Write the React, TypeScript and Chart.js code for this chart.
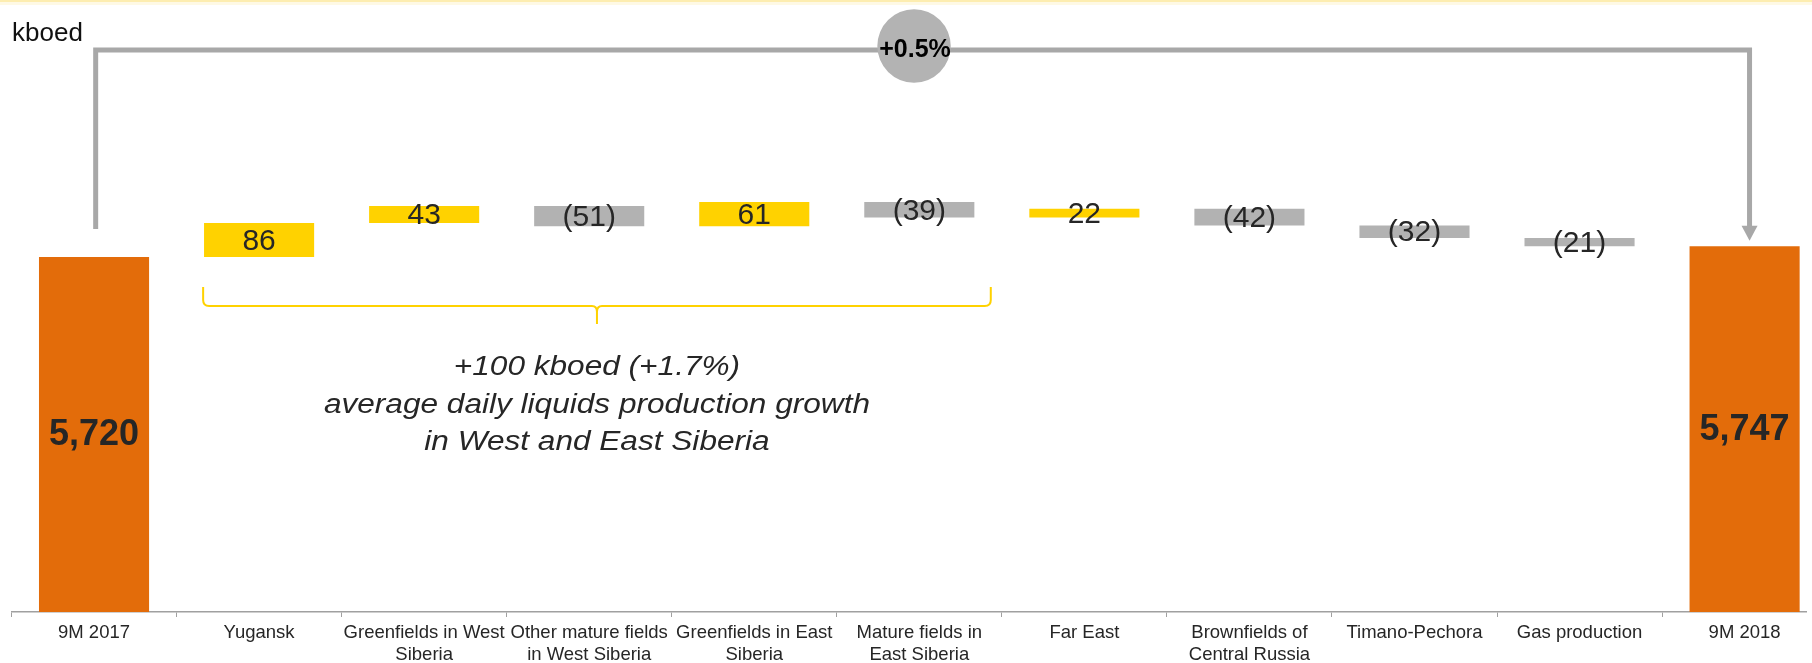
import React, { useEffect, useRef } from "react";
import { Chart, registerables } from "chart.js";

Chart.register(...registerables);

// ---- Data ----
const categories: string[][] = [
  ["9M 2017"],
  ["Yugansk"],
  ["Greenfields in West", "Siberia"],
  ["Other mature fields", "in West Siberia"],
  ["Greenfields in East", "Siberia"],
  ["Mature fields in", "East Siberia"],
  ["Far East"],
  ["Brownfields of", "Central Russia"],
  ["Timano-Pechora"],
  ["Gas production"],
  ["9M 2018"],
];
const startTotal = 5720;
const changes = [86, 43, -51, 61, -39, 22, -42, -32, -21];
const endTotal = 5747;
const totalLabels = ["5,720", "5,747"];
const changeLabels = ["86", "43", "(51)", "61", "(39)", "22", "(42)", "(32)", "(21)"];
const growthText = [
  "+100 kboed (+1.7%)",
  "average daily liquids production growth",
  "in West and East Siberia",
];
const overallChange = "+0.5%";
const unitLabel = "kboed";

// ---- Styling ----
const ORANGE = "#E36C0A";
const YELLOW = "#FFD200";
const GRAY = "#B2B2B2";
const CONNECTOR = "#A8A8A8";
const TEXT = "#262626";
const FONT = '"Liberation Sans", Arial, sans-serif';

const Y_MIN = 4821.3;
const Y_MAX = 6320;
const X_MIN = -0.5;
const X_MAX = 10.372;

// build the waterfall from the arrays above
const barData: { x: number; y: [number, number] }[] = [];
const barColors: string[] = [];
const barTexts: string[] = [];
const barBold: boolean[] = [];
barData.push({ x: 0, y: [Y_MIN, startTotal] });
barColors.push(ORANGE);
barTexts.push(totalLabels[0]);
barBold.push(true);
let running = startTotal;
changes.forEach((c, i) => {
  const next = running + c;
  barData.push({ x: i + 1, y: [running, next] });
  barColors.push(c >= 0 ? YELLOW : GRAY);
  barTexts.push(changeLabels[i]);
  barBold.push(false);
  running = next;
});
barData.push({ x: categories.length - 1, y: [Y_MIN, endTotal] });
barColors.push(ORANGE);
barTexts.push(totalLabels[1]);
barBold.push(true);

const decorPlugin = {
  id: "decor",
  afterDraw(chart: any) {
    const ctx = chart.ctx as CanvasRenderingContext2D;
    const xs = chart.scales.x;
    const ys = chart.scales.y;
    const W = chart.width;
    const area = chart.chartArea;
    ctx.save();

    // faint yellow line at top
    ctx.fillStyle = "rgba(250,215,80,0.45)";
    ctx.fillRect(0, 0, W, 2);
    ctx.fillStyle = "rgba(250,215,80,0.15)";
    ctx.fillRect(0, 2, W, 3);

    // unit label
    ctx.fillStyle = "#111";
    ctx.font = `26px ${FONT}`;
    ctx.textAlign = "left";
    ctx.textBaseline = "alphabetic";
    ctx.fillText(unitLabel, 12, 40.5);

    // connector
    const lineY = ys.getPixelForValue(6244);
    const leftX = xs.getPixelForValue(0.01);
    const leftBottom = ys.getPixelForValue(startTotal) - 28;
    const rightX = xs.getPixelForValue(10.03);
    const tipY = ys.getPixelForValue(endTotal) - 5.5;
    ctx.strokeStyle = CONNECTOR;
    ctx.lineWidth = 5;
    ctx.lineJoin = "miter";
    ctx.beginPath();
    ctx.moveTo(leftX, leftBottom);
    ctx.lineTo(leftX, lineY);
    ctx.lineTo(rightX, lineY);
    ctx.lineTo(rightX, tipY - 12);
    ctx.stroke();
    ctx.fillStyle = CONNECTOR;
    ctx.beginPath();
    ctx.moveTo(rightX - 8, tipY - 15);
    ctx.lineTo(rightX + 8, tipY - 15);
    ctx.lineTo(rightX, tipY);
    ctx.closePath();
    ctx.fill();

    // circle
    const cx = xs.getPixelForValue(4.968);
    const cy = lineY - 4;
    ctx.fillStyle = "#B3B3B3";
    ctx.beginPath();
    ctx.arc(cx, cy, 36.7, 0, Math.PI * 2);
    ctx.fill();
    ctx.fillStyle = "#000";
    ctx.font = `bold 25px ${FONT}`;
    ctx.textAlign = "center";
    ctx.textBaseline = "alphabetic";
    ctx.fillText(overallChange, cx + 1, cy + 10.7);

    // bracket
    const bl = xs.getPixelForValue(0.661);
    const br = xs.getPixelForValue(5.433);
    const bc = (bl + br) / 2;
    const bTop = 287;
    const bMid = 306;
    const bTip = 324;
    ctx.strokeStyle = YELLOW;
    ctx.lineWidth = 2;
    ctx.beginPath();
    ctx.moveTo(bl, bTop);
    ctx.lineTo(bl, bMid - 6);
    ctx.quadraticCurveTo(bl, bMid, bl + 6, bMid);
    ctx.lineTo(bc - 5, bMid);
    ctx.quadraticCurveTo(bc, bMid, bc, bMid + 6);
    ctx.lineTo(bc, bTip);
    ctx.moveTo(bc, bMid + 6);
    ctx.quadraticCurveTo(bc, bMid, bc + 5, bMid);
    ctx.lineTo(br - 6, bMid);
    ctx.quadraticCurveTo(br, bMid, br, bMid - 6);
    ctx.lineTo(br, bTop);
    ctx.stroke();

    // growth annotation (italic, slightly stretched)
    ctx.fillStyle = TEXT;
    ctx.font = `italic 27px ${FONT}`;
    ctx.textAlign = "center";
    ctx.textBaseline = "alphabetic";
    const baselines = [375, 412.5, 449.5];
    growthText.forEach((t, i) => {
      ctx.save();
      ctx.translate(bc, baselines[i]);
      ctx.scale(1.17, 1);
      ctx.fillText(t, 0, 0);
      ctx.restore();
    });

    // bar labels
    const meta = chart.getDatasetMeta(0);
    meta.data.forEach((el: any, i: number) => {
      const top = Math.max(Math.min(el.y, el.base), area.top);
      const bottom = Math.min(Math.max(el.y, el.base), area.bottom);
      const mid = (top + bottom) / 2;
      ctx.fillStyle = TEXT;
      ctx.textAlign = "center";
      ctx.textBaseline = "middle";
      if (barBold[i]) {
        ctx.font = `bold 36px ${FONT}`;
        ctx.fillText(barTexts[i], el.x, mid + 1);
      } else {
        ctx.font = `30px ${FONT}`;
        ctx.fillText(barTexts[i], el.x, mid + 1.5);
      }
    });

    ctx.restore();
  },
};

export default function App() {
  const ref = useRef<HTMLCanvasElement | null>(null);
  useEffect(() => {
    if (!ref.current) return;
    const chart = new Chart(ref.current, {
      type: "bar",
      data: {
        datasets: [
          {
            data: barData as any,
            backgroundColor: barColors,
            borderWidth: 0,
            categoryPercentage: 1,
            barPercentage: 0.667,
          },
        ],
      },
      options: {
        animation: false,
        responsive: true,
        maintainAspectRatio: false,
        layout: { padding: { left: 11.5, right: 6, top: 20, bottom: 0 } },
        plugins: { legend: { display: false }, tooltip: { enabled: false }, title: { display: false } },
        scales: {
          x: {
            type: "linear",
            min: X_MIN,
            max: X_MAX,
            offset: false,
            afterBuildTicks: (s: any) => {
              s.ticks = categories.map((_, i) => ({ value: i }));
            },
            afterFit: (s: any) => {
              s.height = 51;
            },
            grid: {
              offset: true,
              drawOnChartArea: false,
              drawTicks: true,
              tickLength: 5,
              color: "#A0A0A0",
              lineWidth: 1,
            },
            border: { display: true, color: "#A0A0A0", width: 1.5 },
            ticks: {
              autoSkip: false,
              maxRotation: 0,
              minRotation: 0,
              padding: 5,
              color: TEXT,
              font: { family: FONT, size: 18.5 },
              callback: (_v: any, i: number) => categories[i],
            },
          },
          y: { display: false, min: Y_MIN, max: Y_MAX },
        },
      } as any,
      plugins: [decorPlugin],
    });
    return () => chart.destroy();
  }, []);
  return (
    <div style={{ position: "fixed", left: 0, top: 0, width: 1812, height: 663, background: "#fff" }}>
      <canvas ref={ref} />
    </div>
  );
}
